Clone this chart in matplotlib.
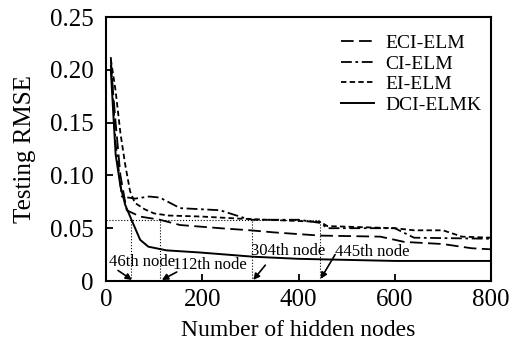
import matplotlib
matplotlib.use("Agg")
import matplotlib.pyplot as plt

plt.rcParams['font.family'] = ['Liberation Serif', 'DejaVu Serif']

# data
eci_x = [10, 20, 30, 43, 71, 112, 154, 237, 300, 350, 445, 570, 620, 700, 760, 800]
eci_y = [0.205, 0.15, 0.10, 0.067, 0.061, 0.058, 0.053, 0.050, 0.048, 0.046, 0.043, 0.042, 0.037, 0.035, 0.031, 0.030]

ci_x = [10, 20, 33, 60, 90, 112, 154, 237, 285, 304, 400, 445, 460, 600, 640, 800]
ci_y = [0.212, 0.13, 0.080, 0.078, 0.080, 0.079, 0.069, 0.067, 0.060, 0.058, 0.058, 0.055, 0.050, 0.050, 0.041, 0.040]

ei_x = [10, 20, 30, 40, 50, 60, 80, 100, 130, 200, 280, 445, 460, 600, 640, 700, 740, 800]
ei_y = [0.210, 0.18, 0.14, 0.11, 0.085, 0.074, 0.068, 0.064, 0.062, 0.061, 0.059, 0.056, 0.052, 0.050, 0.048, 0.048, 0.042, 0.041]

dci_x = [10, 20, 30, 40, 53, 71, 88, 126, 195, 306, 400, 500, 600, 700, 800]
dci_y = [0.200, 0.12, 0.090, 0.072, 0.058, 0.039, 0.0325, 0.029, 0.027, 0.023, 0.021, 0.020, 0.019, 0.019, 0.019]

labels = ['ECI-ELM', 'CI-ELM', 'EI-ELM', 'DCI-ELMK']
mark_nodes = [53, 112, 304, 445]
mark_text = ['46th node', '112th node', '304th node', '445th node']
mark_level = 0.058

fig = plt.figure(figsize=(5.16, 3.47), dpi=100)
ax = fig.add_axes([0.2054, 0.1902, 0.7462, 0.7608])

ax.plot(eci_x, eci_y, color='k', lw=1.3, dashes=(7, 3), label=labels[0])
ax.plot(ci_x, ci_y, color='k', lw=1.3, dashes=(6, 2, 1.5, 2), label=labels[1])
ax.plot(ei_x, ei_y, color='k', lw=1.3, dashes=(3, 1.8), label=labels[2])
ax.plot(dci_x, dci_y, color='k', lw=1.4, label=labels[3])

# dotted guide lines
ax.plot([0, mark_nodes[-1]], [mark_level, mark_level], color='k', lw=0.8, ls=':')
for n in mark_nodes:
    ax.plot([n, n], [0, mark_level], color='k', lw=0.8, ls=':')

# annotations: (arrow tip, arrow tail, text centre)
tips = [(54, 0.001), (116, 0.001), (306, 0.001), (446, 0.002)]
tails = [(25, 0.010), (147, 0.0085), (331, 0.015), (476, 0.025)]
tpos = [(75, 0.018), (216, 0.015), (378, 0.028), (553, 0.0275)]
for tip, st, tp, t in zip(tips, tails, tpos, mark_text):
    ax.text(tp[0], tp[1], t, fontsize=12, ha='center', va='center')
    ax.annotate('', xy=tip, xytext=st,
                arrowprops=dict(arrowstyle='-|>', color='k', lw=1.2,
                                mutation_scale=9, shrinkA=0, shrinkB=0))

ax.set_xlim(0, 800)
ax.set_ylim(0, 0.25)
ax.set_xticks([0, 200, 400, 600, 800])
ax.set_yticks([0, 0.05, 0.10, 0.15, 0.20, 0.25])
ax.set_yticklabels(['0', '0.05', '0.10', '0.15', '0.20', '0.25'])
ax.tick_params(direction='in', length=5, width=1.3, labelsize=18)
ax.tick_params(axis='y', pad=9)
ax.tick_params(axis='x', pad=6)
for s in ax.spines.values():
    s.set_linewidth(1.5)

ax.set_xlabel('Number of hidden nodes', fontsize=17, labelpad=6)
ax.set_ylabel('Testing RMSE', fontsize=18, labelpad=10)

ax.legend(loc='upper right', bbox_to_anchor=(1.02, 1.0), frameon=False, fontsize=14,
          handlelength=1.7, handletextpad=0.6, labelspacing=0.15)

fig.savefig('out.png', dpi=100)
